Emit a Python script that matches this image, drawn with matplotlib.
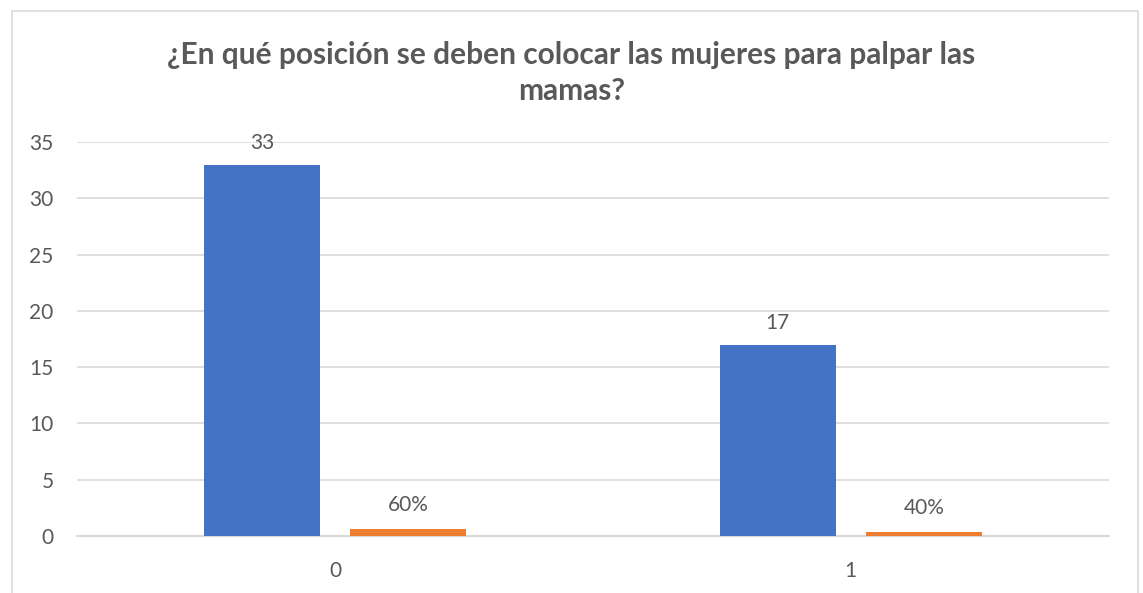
import numpy as np
import matplotlib.pyplot as plt
from matplotlib.patches import Rectangle

# data
categories = ['0', '1']
counts = [33, 17]
shares = [0.6, 0.4]
share_labels = ['60%', '40%']
title = '¿En qué posición se deben colocar las mujeres para palpar las\nmamas?'

plt.rcParams['font.family'] = ['Lato', 'DejaVu Sans']
grey = '#595959'

fig = plt.figure(figsize=(11.43, 5.93), dpi=100)
ax = fig.add_axes([0.0674, 0.0961, 0.9026, 0.6644])

x = np.arange(len(categories))
w = 0.225
off = 0.1415
b1 = ax.bar(x - off, counts, w, color='#4472C4', zorder=3)
b2 = ax.bar(x + off, shares, w, color='#ED7D31', zorder=3)

for rect, v in zip(b1, counts):
    ax.annotate(str(v), (rect.get_x() + rect.get_width() / 2, rect.get_height()),
                xytext=(0, 12), textcoords='offset pixels', ha='center', va='bottom',
                fontsize=15, color=grey)
for rect, lab in zip(b2, share_labels):
    ax.annotate(lab, (rect.get_x() + rect.get_width() / 2, rect.get_height()),
                xytext=(0, 14), textcoords='offset pixels', ha='center', va='bottom',
                fontsize=15, color=grey)

ax.set_xlim(-0.5, 1.5)
ax.set_ylim(0, 35)
ax.set_yticks(range(0, 36, 5))
ax.set_xticks(x)
ax.set_xticklabels(categories)
ax.yaxis.grid(True, color='#d9d9d9', linewidth=1.2, zorder=0)
for s in ['top', 'right', 'left']:
    ax.spines[s].set_visible(False)
ax.spines['bottom'].set_color('#d9d9d9')
ax.spines['bottom'].set_linewidth(1.5)
ax.tick_params(axis='both', length=0, labelsize=15, labelcolor=grey)
ax.tick_params(axis='y', pad=17)
ax.tick_params(axis='x', pad=18)

fig.text(0.5, 0.877, title, ha='center', va='center', fontsize=21.5,
         fontweight='bold', color=grey, linespacing=1.35)

# chart border
fig.patches.append(Rectangle((12 / 1143, -0.05), 1126 / 1143, 1 - 11 / 593 + 0.05,
                             transform=fig.transFigure, fill=False,
                             edgecolor='#d9d9d9', linewidth=1.2))

fig.savefig('out.png', dpi=100)
